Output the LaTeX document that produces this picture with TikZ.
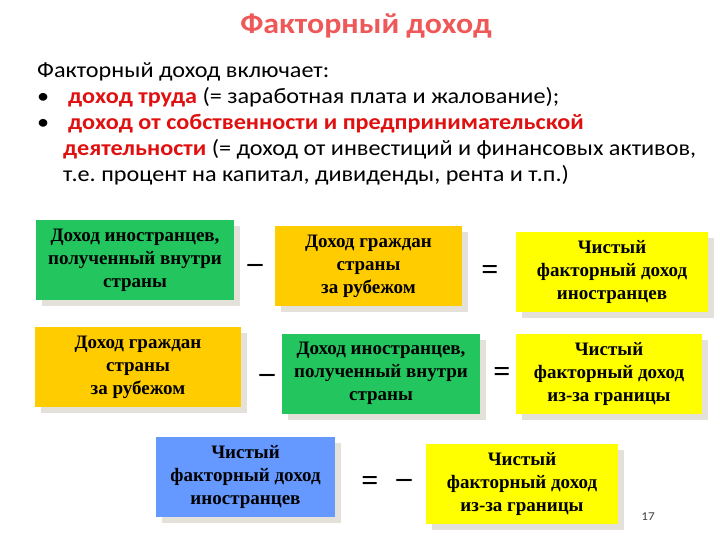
\documentclass[tikz,border=0pt]{standalone}
\usepackage{fontspec}
\setmainfont{Liberation Serif}
\newfontfamily\calib[FakeStretch=1.1]{Carlito}
\usetikzlibrary{shadows}
\definecolor{boxgreen}{HTML}{22C55E}
\definecolor{boxgold}{HTML}{FFCC00}
\definecolor{boxyellow}{HTML}{FFFF00}
\definecolor{boxblue}{HTML}{6699FF}
\definecolor{shadowc}{HTML}{E4E1DA}
\definecolor{titlered}{HTML}{EE5858}
\definecolor{boldred}{HTML}{E01010}
\frenchspacing
\tikzset{
  fbox/.style={minimum height=80pt, inner sep=2pt, align=center,
    font=\fontsize{19}{23}\selectfont\bfseries, text=black,
    drop shadow={shadow xshift=6pt, shadow yshift=-6pt, fill=shadowc, opacity=1}},
  op/.style={font=\fontsize{30}{30}\selectfont\bfseries, inner sep=0pt},
  bodyline/.style={anchor=base west, inner sep=0pt, font=\calib\fontsize{22}{26}\selectfont}
}
\begin{document}
\begin{tikzpicture}[x=1pt,y=-1pt]
\useasboundingbox (0,0) rectangle (720,540);
\node[anchor=base, inner sep=0pt, font=\calib\fontsize{29}{30}\selectfont\bfseries, text=titlered] (title) at (366,34) {Факторный доход};
\node[bodyline] (l1) at (37,78) {Факторный доход включает:};
\node[bodyline] (b1) at (37,104) {•};
\node[bodyline] (l2) at (68,104) {\textcolor{boldred}{\bfseries доход труда} (= заработная плата и жалование);};
\node[bodyline] (b2) at (37,130) {•};
\node[bodyline] (l3) at (68,130) {\textcolor{boldred}{\bfseries доход от собственности и предпринимательской}};
\node[bodyline] (l4) at (63,156) {\textcolor{boldred}{\bfseries деятельности} (= доход от инвестиций и финансовых активов,};
\node[bodyline] (l5) at (63,182) {т.е. процент на капитал, дивиденды, рента и т.п.)};

\node[fbox, fill=boxgreen, minimum width=198pt] (a1) at (135,260) {Доход иностранцев,\\полученный внутри\\страны};
\node[op] (m1) at (255,268) {–};
\node[fbox, fill=boxgold, minimum width=187pt] (a2) at (368.5,266) {Доход граждан\\страны\\за рубежом};
\node[op] (e1) at (490,272) {=};
\node[fbox, fill=boxyellow, minimum width=192pt] (a3) at (612,272) {Чистый\\факторный доход\\иностранцев};

\node[fbox, fill=boxgold, minimum width=206pt] (c1) at (138,367) {Доход граждан\\страны\\за рубежом};
\node[op] (m2) at (267,378) {–};
\node[fbox, fill=boxgreen, minimum width=198pt] (c2) at (381,373.5) {Доход иностранцев,\\полученный внутри\\страны};
\node[op] (e2) at (502,374) {=};
\node[fbox, fill=boxyellow, minimum width=186pt] (c3) at (609,374) {Чистый\\факторный доход\\из-за границы};

\node[fbox, fill=boxblue, minimum width=179pt] (d1) at (245.5,477) {Чистый\\факторный доход\\иностранцев};
\node[op] (e3) at (370,483) {=};
\node[op] (m3) at (404,483) {–};
\node[fbox, fill=boxyellow, minimum width=192pt] (d2) at (522,483.5) {Чистый\\факторный доход\\из-за границы};

\node[anchor=center, inner sep=0pt, font=\calib\fontsize{12}{12}\selectfont, text=black!75] (pg) at (648,517) {17};
\end{tikzpicture}
\end{document}
